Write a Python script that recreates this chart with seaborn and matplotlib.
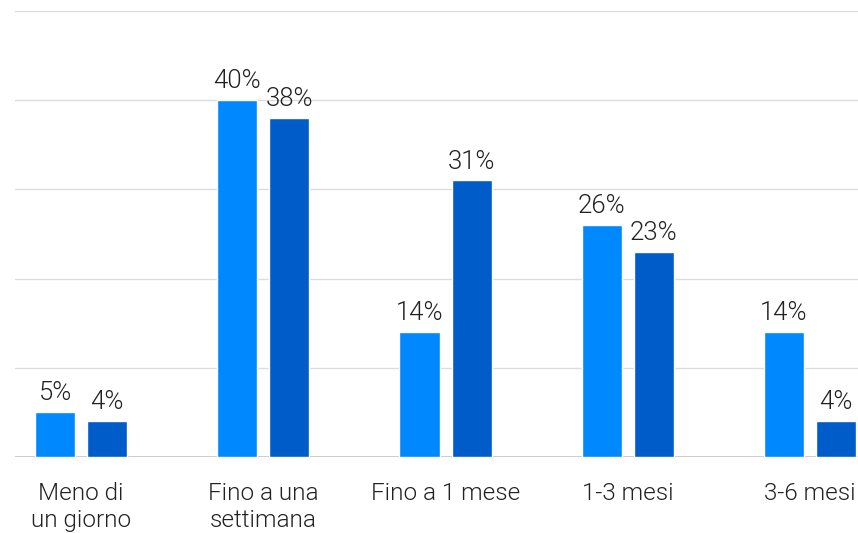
import matplotlib
matplotlib.use("Agg")
import matplotlib.pyplot as plt
import seaborn as sns
import pandas as pd

categories = ["Meno di\nun giorno", "Fino a una\nsettimana", "Fino a 1 mese", "1-3 mesi", "3-6 mesi"]
series_names = ["A", "B"]
values_a = [5, 40, 14, 26, 14]
values_b = [4, 38, 31, 23, 4]
colors = ["#0088FF", "#005CC8"]

df = pd.DataFrame({
    "cat": categories * 2,
    "serie": [series_names[0]] * 5 + [series_names[1]] * 5,
    "val": values_a + values_b,
})

sns.set_theme(style="white")
plt.rcParams["font.family"] = ["Roboto", "DejaVu Sans"]

fig = plt.figure(figsize=(8.58, 5.33), dpi=100)
ax = fig.add_axes([15 / 858, 76 / 533, 843 / 858, 446 / 533])

sns.barplot(data=df, x="cat", y="val", hue="serie", palette=colors,
            width=0.571, gap=0.23, ax=ax, legend=False, saturation=1,
            order=categories, hue_order=series_names)

ax.set_ylim(0, 50)
ax.set_xlim(-0.363, 4.264)
ax.set_yticks([10, 20, 30, 40, 50])
ax.yaxis.grid(True, color="#DCDCDC", linewidth=1)
ax.set_axisbelow(True)
ax.axhline(0, color="#C4C4C4", linewidth=1.2, zorder=0.5)
for s in ax.spines.values():
    s.set_visible(False)
ax.tick_params(axis="y", length=0, labelleft=False)
ax.tick_params(axis="x", length=0, pad=18, labelsize=17.5, labelcolor="#222222")
for lab in ax.get_xticklabels():
    lab.set_linespacing(1.2)
    lab.set_fontweight(300)
ax.set_xlabel("")
ax.set_ylabel("")

for cont in ax.containers:
    ax.bar_label(cont, labels=[f"{int(v)}%" for v in cont.datavalues], padding=5,
                 fontsize=18.5, color="#222222", fontweight=300)

fig.savefig("out.png", dpi=100)
